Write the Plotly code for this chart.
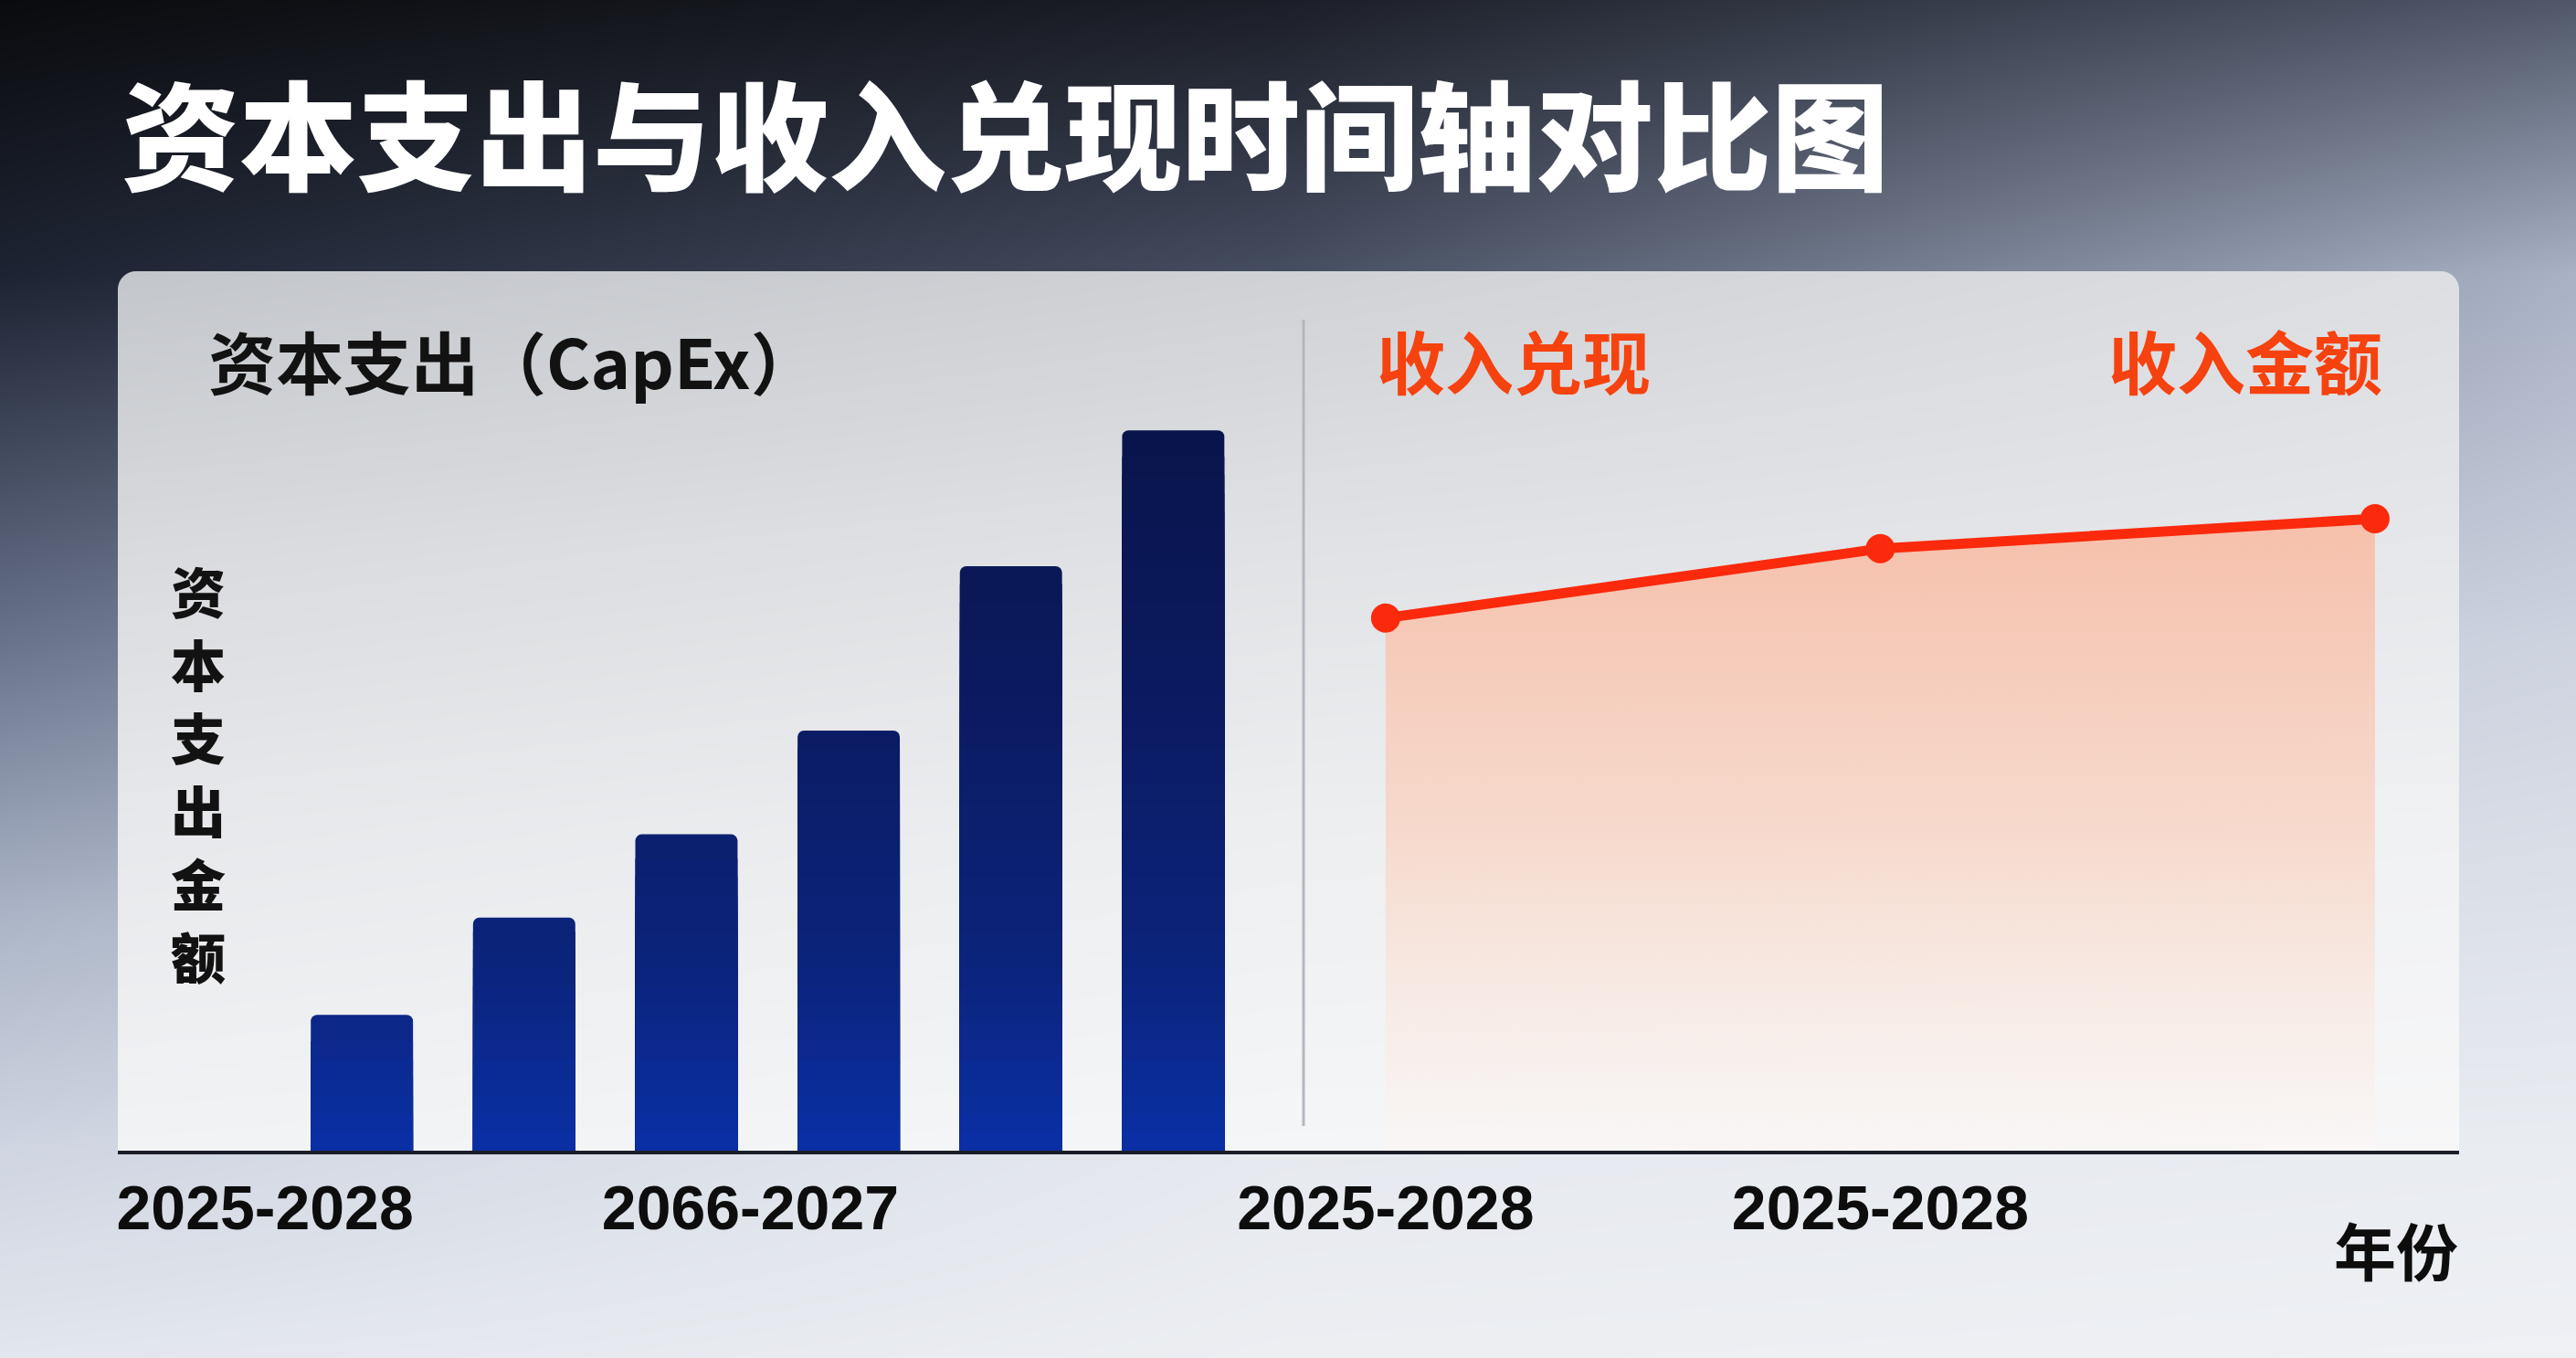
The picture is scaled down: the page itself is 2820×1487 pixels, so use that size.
import base64
import struct
import zlib

import numpy as np
import plotly.graph_objects as go

# ---------------- data ----------------
CAPEX_LABELS = ["2025-2028", "2066-2027"]          # tick labels under the bars
CAPEX_VALUES = [18.6, 31.9, 43.3, 57.5, 80.0, 98.6]  # six CapEx bars (relative units)
REVENUE_LABELS = ["2025-2028", "2025-2028"]        # tick labels under the revenue line
REVENUE_VALUES = [72.9, 82.4, 86.5]                # revenue realisation points

TITLE = "资本支出与收入兑现时间轴对比图"
LEFT_HEADER = "资本支出（CapEx）"
LEFT_YTITLE = "资本支出金额"
RIGHT_HEADER_L = "收入兑现"
RIGHT_HEADER_R = "收入金额"
X_TITLE = "年份"

W, H = 2820, 1487


def px(x):
    return x / W


def py(y):
    return 1 - y / H


# ---------------- background picture (page gradient + card) ----------------
def hexrgb(h):
    h = h.lstrip("#")
    return [int(h[i:i + 2], 16) for i in (0, 2, 4)]


def bilerp(gx, gy, grid, w, h, x0=0, y0=0):
    G = np.array([[hexrgb(c) for c in row] for row in grid], dtype=np.float32)
    yy = np.arange(h, dtype=np.float32) + y0
    xx = np.arange(w, dtype=np.float32) + x0
    cols = np.stack([np.stack([np.interp(yy, gy, G[:, j, c]) for c in range(3)], -1)
                     for j in range(len(gx))], 1).astype(np.float32)  # (h, nx, 3)
    gxa = np.array(gx, dtype=np.float32)
    idx = np.clip(np.searchsorted(gxa, xx, side="right") - 1, 0, len(gx) - 2)
    t = np.clip((xx - gxa[idx]) / (gxa[idx + 1] - gxa[idx]), 0, 1).astype(np.float32)
    return cols[:, idx, :] * (1 - t)[None, :, None] + cols[:, idx + 1, :] * t[None, :, None]


bg = bilerp(
    [0, 1400, 2820],
    [0, 300, 700, 1000, 1260, 1487],
    [
        ["#0a0b0e", "#1b1e27", "#4f5769"],
        ["#1d2332", "#454d60", "#a9b1c5"],
        ["#68728b", "#b3bbcb", "#cdd3df"],
        ["#abb4c6", "#d6dbe4", "#dde1e9"],
        ["#cfd5e1", "#e6e9ef", "#e9ecf1"],
        ["#e2e6ed", "#eceef2", "#eef0f4"],
    ],
    W, H,
)

CX0, CX1, CY0, CY1, CR = 129, 2692, 297, 1262, 20
cw, ch = CX1 - CX0, CY1 - CY0
card = bilerp(
    [CX0, 1400, CX1],
    [CY0, 600, 900, CY1],
    [
        ["#c3c6cb", "#cfd1d5", "#dcdee1"],
        ["#d8dadd", "#e0e2e5", "#e6e7ea"],
        ["#e7e8eb", "#eceef0", "#f0f1f3"],
        ["#f2f3f5", "#f5f6f7", "#f7f7f8"],
    ],
    cw, ch, CX0, CY0,
)
yy = np.arange(ch, dtype=np.float32)[:, None] + CY0 + 0.5
xx = np.arange(cw, dtype=np.float32)[None, :] + CX0 + 0.5
alpha = np.ones((ch, cw), dtype=np.float32)
for cxc in (CX0 + CR, CX1 - CR):
    cyc = CY0 + CR
    d = np.sqrt((xx - cxc) ** 2 + (yy - cyc) ** 2)
    inq = (yy < cyc) & ((xx < cxc) if cxc < 1400 else (xx > cxc))
    a = np.clip(CR + 0.5 - d, 0, 1)
    alpha = np.where(inq, a, alpha)
sub = bg[CY0:CY1, CX0:CX1]
bg[CY0:CY1, CX0:CX1] = sub * (1 - alpha[..., None]) + card * alpha[..., None]
img = np.clip(np.round(bg), 0, 255).astype(np.uint8)


def png_uri(im):
    h, w, _ = im.shape
    a = im.astype(np.int16)
    left = np.zeros_like(a)
    left[:, 1:] = a[:, :-1]
    up = np.zeros_like(a)
    up[1:] = a[:-1]
    ul = np.zeros_like(a)
    ul[1:, 1:] = a[:-1, :-1]
    p = left + up - ul
    pa, pb, pc = np.abs(p - left), np.abs(p - up), np.abs(p - ul)
    pred = np.where((pa <= pb) & (pa <= pc), left, np.where(pb <= pc, up, ul))
    f = ((a - pred) % 256).astype(np.uint8).reshape(h, -1)
    raw = np.concatenate([np.full((h, 1), 4, np.uint8), f], axis=1).tobytes()

    def chunk(tag, data):
        c = struct.pack(">I", len(data)) + tag + data
        return c + struct.pack(">I", zlib.crc32(tag + data) & 0xFFFFFFFF)

    png = b"\x89PNG\r\n\x1a\n" + chunk(b"IHDR", struct.pack(">IIBBBBB", w, h, 8, 2, 0, 0, 0))
    png += chunk(b"IDAT", zlib.compress(raw, 6)) + chunk(b"IEND", b"")
    return "data:image/png;base64," + base64.b64encode(png).decode()


# ---------------- figure ----------------
fig = go.Figure()

# bar colour follows an absolute vertical gradient (royal blue at the base -> deep navy at the top)
BAR_STOPS = [(0, (10, 48, 166)), (25, (11, 36, 124)), (60, (11, 27, 98)), (100, (10, 20, 74))]


def bar_color(v):
    for (a, ca), (b, cb) in zip(BAR_STOPS[:-1], BAR_STOPS[1:]):
        if v <= b:
            t = (v - a) / (b - a)
            c = [round(ca[i] + (cb[i] - ca[i]) * t) for i in range(3)]
            return "rgb(%d,%d,%d)" % tuple(c)
    return "rgb(%d,%d,%d)" % BAR_STOPS[-1][1]


bar_x = list(range(1, len(CAPEX_VALUES) + 1))
BAR_W = 0.63
fig.add_trace(go.Bar(
    x=bar_x, y=CAPEX_VALUES, width=BAR_W,
    marker=dict(color=[bar_color(v - 1.25) for v in CAPEX_VALUES], line=dict(width=0), cornerradius=7),
    xaxis="x", yaxis="y", showlegend=False, hoverinfo="skip",
))
STEP = 2.5
levels = [STEP * k for k in range(int(max(CAPEX_VALUES) / STEP), 0, -1)]
for hi in levels:
    ys = [hi if v >= hi + 1.5 else None for v in CAPEX_VALUES]
    if all(y is None for y in ys):
        continue
    fig.add_trace(go.Bar(
        x=bar_x, y=ys, width=BAR_W,
        marker=dict(color=bar_color(hi - STEP / 2), line=dict(width=0)),
        xaxis="x", yaxis="y", showlegend=False, hoverinfo="skip",
    ))

rev_x = list(range(len(REVENUE_VALUES)))
fig.add_trace(go.Scatter(
    x=rev_x, y=REVENUE_VALUES, mode="lines+markers",
    line=dict(color="#fb2a0c", width=11),
    marker=dict(color="#fb2a0c", size=32),
    fill="tozeroy",
    fillgradient=dict(
        type="vertical", start=0, stop=max(REVENUE_VALUES),
        colorscale=[[0, "rgba(251,246,244,0.55)"], [0.5, "rgba(248,214,198,0.85)"],
                    [1, "rgba(247,190,168,0.95)"]],
    ),
    xaxis="x2", yaxis="y2", showlegend=False, hoverinfo="skip",
))

YDOM = [py(1260), py(300)]
tick_font = dict(family="Liberation Sans, Arial, sans-serif", size=68, color="#0d0d0d", weight="bold")
axis_common = dict(showgrid=False, zeroline=False, showline=True, linecolor="#1a1d27", linewidth=4,
                   ticks="", tickfont=tick_font, fixedrange=True, automargin=False)

cjk = "Noto Sans CJK SC, sans-serif"

annotations = [
    dict(text=LEFT_HEADER, x=px(226), y=py(393), xref="paper", yref="paper", xanchor="left",
         yanchor="middle", showarrow=False, font=dict(family=cjk, size=74, color="#121212", weight="bold")),
    dict(text=RIGHT_HEADER_L, x=px(1505), y=py(393), xref="paper", yref="paper", xanchor="left",
         yanchor="middle", showarrow=False, font=dict(family=cjk, size=75, color="#f6420f", weight="bold")),
    dict(text=RIGHT_HEADER_R, x=px(2610), y=py(393), xref="paper", yref="paper", xanchor="right",
         yanchor="middle", showarrow=False, font=dict(family=cjk, size=75, color="#f6420f", weight="bold")),
    dict(text=X_TITLE, x=px(2693), y=py(1367), xref="paper", yref="paper", xanchor="right",
         yanchor="middle", showarrow=False, font=dict(family=cjk, size=68, color="#0d0d0d", weight="bold")),
]
# vertical (stacked) y-axis title, one character per line
n = len(LEFT_YTITLE)
for i, chx in enumerate(LEFT_YTITLE):
    annotations.append(dict(
        text=chx, x=px(217), y=py(845 + (i - (n - 1) / 2) * 80), xref="paper", yref="paper",
        xanchor="center", yanchor="middle", showarrow=False,
        font=dict(family=cjk, size=60, color="#121212", weight=900)))

fig.update_layout(
    width=W, height=H,
    margin=dict(l=0, r=0, t=0, b=0, pad=0, autoexpand=False),
    paper_bgcolor="#e6e9ef", plot_bgcolor="rgba(0,0,0,0)",
    barmode="overlay", hovermode=False,
    title=dict(text=TITLE, x=px(133), xanchor="left", xref="paper", y=py(154), yref="paper",
               yanchor="middle", automargin=False,
               font=dict(family=cjk, size=129, color="#ffffff", weight=900)),
    xaxis=dict(domain=[px(129), px(1427)], range=[-0.504, 6.803], anchor="y",
               tickvals=[0.403, 3.394], ticktext=CAPEX_LABELS, **axis_common),
    xaxis2=dict(domain=[px(1427), px(2692)], range=[-0.166, 2.170], anchor="y2",
                tickvals=[0, 1], ticktext=REVENUE_LABELS, **axis_common),
    yaxis=dict(domain=YDOM, range=[0, 120], visible=False, anchor="x", fixedrange=True, automargin=False),
    yaxis2=dict(domain=YDOM, range=[0, 120], visible=False, anchor="x2", fixedrange=True, automargin=False),
    images=[dict(source=png_uri(img), xref="paper", yref="paper", x=0, y=1, sizex=1, sizey=1,
                 xanchor="left", yanchor="top", sizing="stretch", layer="below")],
    shapes=[dict(type="line", xref="paper", yref="paper", x0=px(1427), x1=px(1427),
                 y0=py(350), y1=py(1233), line=dict(color="#b3b7bf", width=3))],
    annotations=annotations,
)

fig.write_html("out.html", config={"displayModeBar": False})
